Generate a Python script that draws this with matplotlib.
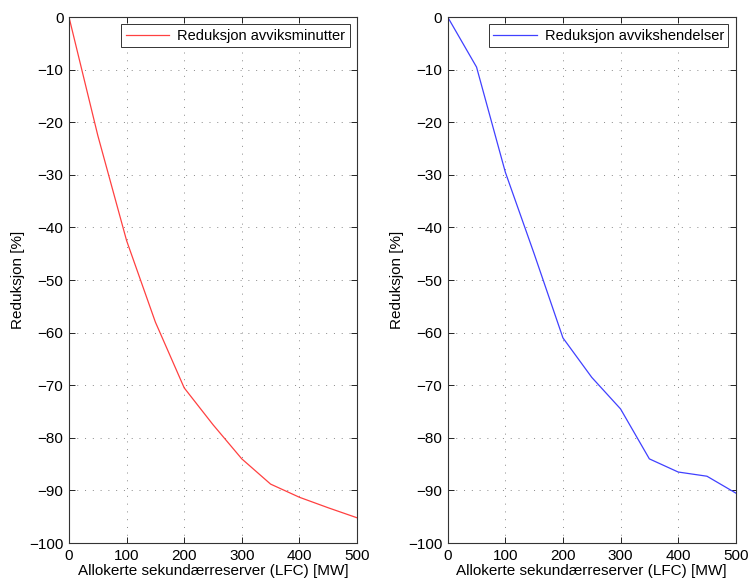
import matplotlib
matplotlib.use("Agg")
import matplotlib.pyplot as plt

plt.rcParams['font.family'] = ['Liberation Sans', 'DejaVu Sans']

x_mw = [0, 50, 100, 150, 200, 250, 300, 350, 400, 450, 500]
red_minutes = [0, -22.5, -42.5, -58, -70.5, -77.5, -84, -88.8, -91.3, -93.3, -95.2]
blue_events = [0, -9.5, -29.5, -45, -61, -68.5, -74.5, -84, -86.5, -87.3, -90.5]

xticks = [0, 100, 200, 300, 400, 500]
yticks = list(range(-100, 1, 10))
xlabel = "Allokerte sekundærreserver (LFC) [MW]"
ylabel = "Reduksjon [%]"

fig = plt.figure(figsize=(7.5, 5.83), dpi=100)
ax1 = fig.add_axes([0.092, 0.0686, 0.384, 0.902])
ax2 = fig.add_axes([0.597, 0.0686, 0.384, 0.902])

for ax, y, col, lab in [(ax1, red_minutes, '#ff4040', 'Reduksjon avviksminutter'),
                        (ax2, blue_events, '#4040ff', 'Reduksjon avvikshendelser')]:
    ax.plot(x_mw, y, color=col, lw=0.9, label=lab)
    ax.set_xlim(0, 500)
    ax.set_ylim(-100, 0)
    ax.set_xticks(xticks)
    ax.set_yticks(yticks)
    ax.grid(True, linestyle=(0, (1, 7)), color='#888888', lw=0.7)
    ax.tick_params(direction='in', top=True, right=True, labelsize=11, length=4, width=0.6, pad=4)
    for s in ax.spines.values():
        s.set_linewidth(0.8)
        s.set_color('#333333')
    ax.set_xlabel(xlabel, fontsize=11, labelpad=1)
    ax.set_ylabel(ylabel, fontsize=11, labelpad=3)
    leg = ax.legend(loc='upper right', fontsize=10.5, fancybox=False, framealpha=1,
                    edgecolor='#333333', handlelength=3.0, handletextpad=0.55,
                    borderpad=0.3, borderaxespad=0.5)
    leg.get_frame().set_linewidth(0.7)

fig.savefig("out.png", dpi=100)
